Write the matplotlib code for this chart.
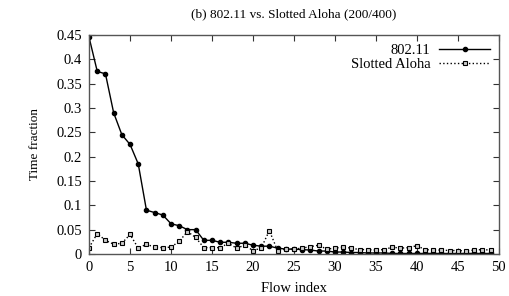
import numpy as np
import matplotlib.pyplot as plt

plt.rcParams['font.family'] = ['Liberation Serif', 'DejaVu Serif']

flow = np.arange(50)
wifi = [0.445, 0.375, 0.37, 0.29, 0.245, 0.225, 0.185, 0.09, 0.085, 0.08,
        0.062, 0.058, 0.05, 0.05, 0.028, 0.028, 0.024, 0.024, 0.022, 0.022,
        0.018, 0.016, 0.016, 0.012, 0.01, 0.01, 0.009, 0.008, 0.006, 0.006,
        0.004, 0.004, 0.003, 0.003, 0.002, 0.002, 0.002, 0.001, 0.001, 0.001,
        0.001, 0.001, 0.001, 0.001, 0.001, 0.001, 0.001, 0.001, 0.001, 0.001]
aloha = [0.013, 0.042, 0.028, 0.02, 0.022, 0.04, 0.012, 0.02, 0.014, 0.013,
         0.014, 0.026, 0.046, 0.034, 0.013, 0.013, 0.013, 0.022, 0.012, 0.018,
         0.007, 0.012, 0.048, 0.007, 0.01, 0.01, 0.012, 0.015, 0.018, 0.01,
         0.012, 0.014, 0.012, 0.009, 0.009, 0.008, 0.009, 0.014, 0.012, 0.013,
         0.017, 0.009, 0.008, 0.008, 0.007, 0.007, 0.006, 0.008, 0.009, 0.008]

fig = plt.figure(figsize=(5.09, 2.96), dpi=100)
ax = fig.add_axes([0.175, 0.142, 0.805, 0.740])

ax.plot(flow, wifi, '-', color='black', lw=1.0, marker='o', ms=3,
        label='802.11')
ax.plot(flow, aloha, ':', color='black', lw=1.0, marker='s', ms=3.5,
        mfc='#cccccc', mec='black', mew=0.8, label='Slotted Aloha')

ax.set_xlim(0, 50)
ax.set_ylim(0, 0.45)
ax.set_xticks(np.arange(0, 51, 5))
ax.set_yticks(np.arange(0, 0.451, 0.05))
ax.set_yticklabels(['0', '0.05', '0.1', '0.15', '0.2', '0.25', '0.3',
                    '0.35', '0.4', '0.45'])
ax.tick_params(direction='in', top=True, right=True, labelsize=10.5,
               length=4, width=0.8, colors='#333333', labelcolor='black',
               pad=5)
for s in ax.spines.values():
    s.set_color('#555555')
    s.set_linewidth(1.0)

ax.set_xlabel('Flow index', fontsize=10.5, labelpad=6)
ax.set_ylabel('Time fraction', fontsize=9.5, labelpad=11)
ax.set_title('(b) 802.11 vs. Slotted Aloha (200/400)', fontsize=9.5, pad=13)

ax.legend(loc='upper right', frameon=False, markerfirst=False, fontsize=10.5,
          handlelength=3.5, borderaxespad=0.2, labelspacing=0.05,
          handletextpad=0.6)

fig.savefig('out.png', dpi=100)
